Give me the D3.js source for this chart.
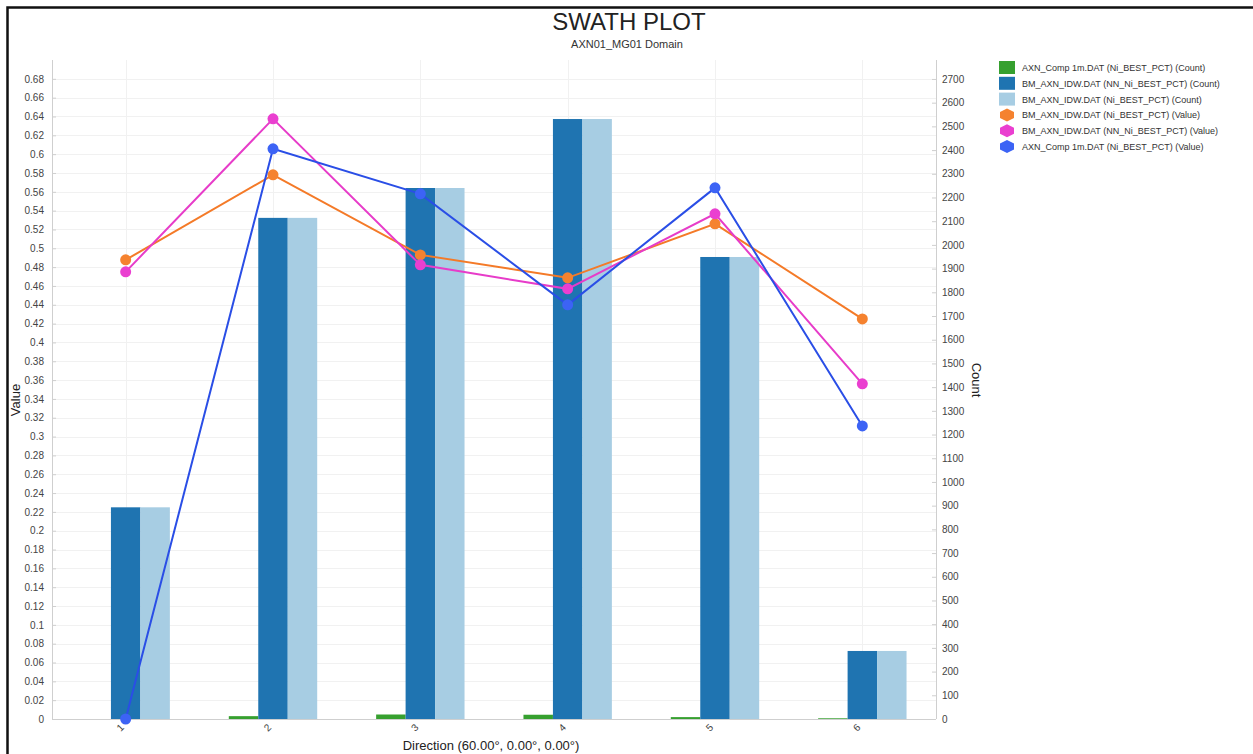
<!DOCTYPE html>
<html>
<head>
<meta charset="utf-8">
<script src="https://cdn.jsdelivr.net/npm/d3@7/dist/d3.min.js"></script>
<style>
  html, body { margin: 0; padding: 0; background: #fff; }
  svg { display: block; font-family: "Liberation Sans", Arial, sans-serif; }
</style>
</head>
<body>
<svg id="chart" width="1253" height="754"></svg>
<script>
// Swath categories along the direction
const categories = ["1", "2", "3", "4", "5", "6"];

// Sample counts per swath (right axis)
const countComp = [0, 12, 19, 18, 8, 3];
const countNN = [893, 2114, 2240, 2531, 1949, 287];
const countIDW = [893, 2114, 2240, 2531, 1949, 287];

// Mean grade per swath (left axis)
const valueIDW = [0.4877, 0.578, 0.493, 0.4686, 0.526, 0.425];
const valueNN = [0.475, 0.6375, 0.4824, 0.4569, 0.5366, 0.356];
const valueComp = [0, 0.6056, 0.5578, 0.4399, 0.5642, 0.3113];

// Axis ticks
const valueTicks = d3.range(0, 35).map(i => +(i * 0.02).toFixed(2));
const countTicks = d3.range(0, 28).map(i => i * 100);

const barSeries = [
  { name: "AXN_Comp 1m.DAT (Ni_BEST_PCT) (Count)", values: countComp, color: "#36a02f" },
  { name: "BM_AXN_IDW.DAT (NN_Ni_BEST_PCT) (Count)", values: countNN, color: "#1f74b1" },
  { name: "BM_AXN_IDW.DAT (Ni_BEST_PCT) (Count)", values: countIDW, color: "#a7cde3" }
];
const lineSeries = [
  { name: "BM_AXN_IDW.DAT (Ni_BEST_PCT) (Value)", values: valueIDW, color: "#f47a28", marker: "#f5822f" },
  { name: "BM_AXN_IDW.DAT (NN_Ni_BEST_PCT) (Value)", values: valueNN, color: "#e73cc9", marker: "#ea3fd0" },
  { name: "AXN_Comp 1m.DAT (Ni_BEST_PCT) (Value)", values: valueComp, color: "#2a4ee6", marker: "#3c63f5" }
];

const svg = d3.select("#chart");
const W = 1253, H = 754;
const plot = { left: 52, right: 936, top: 60, bottom: 719 };

// Frame
svg.append("rect").attr("x", 7.5).attr("y", 7.5).attr("width", W + 10).attr("height", H + 10)
  .attr("fill", "none").attr("stroke", "#111").attr("stroke-width", 2.5);

// Titles
svg.append("text").attr("x", 629).attr("y", 30).attr("text-anchor", "middle")
  .attr("font-size", 24).attr("fill", "#222").text("SWATH PLOT");
svg.append("text").attr("x", 627).attr("y", 48).attr("text-anchor", "middle")
  .attr("font-size", 11).attr("fill", "#333").text("AXN01_MG01 Domain");

// Scales
const x = d3.scaleBand().domain(categories).range([plot.left, plot.right]).paddingInner(0).paddingOuter(0);
const yVal = d3.scaleLinear().domain([0, 0.70]).range([plot.bottom, plot.top]);
const yCnt = d3.scaleLinear().domain([0, 2780]).range([plot.bottom, plot.top]);
const barW = x.bandwidth() * 0.2;
const cx = c => x(c) + x.bandwidth() / 2;

// Gridlines
const grid = svg.append("g");
grid.selectAll("line.h").data(valueTicks).join("line")
  .attr("x1", plot.left).attr("x2", plot.right)
  .attr("y1", d => Math.round(yVal(d)) + 0.5).attr("y2", d => Math.round(yVal(d)) + 0.5)
  .attr("stroke", "#f1f1f1").attr("stroke-width", 1);
grid.selectAll("line.v").data(categories).join("line")
  .attr("x1", d => Math.round(cx(d)) + 0.5).attr("x2", d => Math.round(cx(d)) + 0.5)
  .attr("y1", plot.top).attr("y2", plot.bottom)
  .attr("stroke", "#f1f1f1").attr("stroke-width", 1);

// Bars: three per category, the middle bar centred on the category
barSeries.forEach((s, i) => {
  svg.append("g").selectAll("rect").data(categories).join("rect")
    .attr("x", (c) => cx(c) + (i - 1.5) * barW)
    .attr("width", barW)
    .attr("y", (c, j) => yCnt(s.values[j]))
    .attr("height", (c, j) => plot.bottom - yCnt(s.values[j]))
    .attr("fill", s.color);
});

// Axes
const leftAxis = d3.axisLeft(yVal).tickValues(valueTicks).tickSize(-4).tickPadding(8)
  .tickFormat(d => String(d));
const gL = svg.append("g").attr("transform", `translate(${plot.left},0)`).call(leftAxis);
gL.select(".domain").attr("stroke", "#cfcfcf").attr("d", `M0.5,${plot.top}V${plot.bottom}`);
gL.selectAll(".tick line").attr("stroke", "#cfcfcf");
gL.selectAll(".tick text").attr("font-size", 10).attr("fill", "#444")
  .attr("font-family", "Liberation Sans, Arial, sans-serif");

const rightAxis = d3.axisRight(yCnt).tickValues(countTicks).tickSize(-4).tickPadding(6)
  .tickFormat(d3.format("d"));
const gR = svg.append("g").attr("transform", `translate(${plot.right},0)`).call(rightAxis);
gR.select(".domain").attr("stroke", "#cfcfcf").attr("d", `M0.5,${plot.top}V${plot.bottom}`);
gR.selectAll(".tick line").attr("stroke", "#cfcfcf");
gR.selectAll(".tick text").attr("font-size", 10).attr("fill", "#444")
  .attr("font-family", "Liberation Sans, Arial, sans-serif");

const bottomAxis = d3.axisBottom(x).tickSize(0).tickPadding(0);
const gB = svg.append("g").attr("transform", `translate(0,${plot.bottom})`).call(bottomAxis);
gB.select(".domain").attr("stroke", "#cfcfcf").attr("d", `M${plot.left},0.5H${plot.right}`);
gB.selectAll(".tick text").attr("font-size", 10).attr("fill", "#444")
  .attr("font-family", "Liberation Sans, Arial, sans-serif")
  .attr("text-anchor", "middle").attr("dy", 0)
  .attr("transform", "translate(-3,11) rotate(-45)");

// Axis titles
svg.append("text").attr("transform", "translate(20,400) rotate(-90)").attr("text-anchor", "middle")
  .attr("font-size", 13).attr("fill", "#222").text("Value");
svg.append("text").attr("transform", "translate(972,380) rotate(90)").attr("text-anchor", "middle")
  .attr("font-size", 13).attr("fill", "#222").text("Count");
svg.append("text").attr("x", (plot.left + plot.right) / 2 - 3).attr("y", 750).attr("text-anchor", "middle")
  .attr("font-size", 13).attr("fill", "#222").text("Direction (60.00°, 0.00°, 0.00°)");

// Value lines with markers
const line = d3.line().x(d => cx(d.c)).y(d => yVal(d.v));
lineSeries.forEach(s => {
  const pts = categories.map((c, j) => ({ c, v: s.values[j] }));
  svg.append("path").datum(pts).attr("d", line)
    .attr("fill", "none").attr("stroke", s.color).attr("stroke-width", 2);
  svg.append("g").selectAll("circle").data(pts).join("circle")
    .attr("cx", d => cx(d.c)).attr("cy", d => yVal(d.v)).attr("r", 5.5)
    .attr("fill", s.marker);
});

// Legend
const legend = svg.append("g").attr("transform", "translate(999,61)");
const legendItems = barSeries.map(s => ({ name: s.name, color: s.color, kind: "bar" }))
  .concat(lineSeries.map(s => ({ name: s.name, color: s.marker, kind: "marker" })));
const rowH = 15.8;
const item = legend.selectAll("g").data(legendItems).join("g")
  .attr("transform", (d, i) => `translate(0,${i * rowH})`);
item.filter(d => d.kind === "bar").append("rect")
  .attr("x", 0).attr("y", 0).attr("width", 16).attr("height", 13).attr("fill", d => d.color);
item.filter(d => d.kind === "marker").append("path")
  .attr("d", "M8,0 L15,3.5 L15,9.5 L8,13 L1,9.5 L1,3.5 Z")
  .attr("fill", d => d.color);
item.append("text").attr("x", 23).attr("y", 10).attr("font-size", 9).attr("fill", "#333")
  .text(d => d.name);
</script>
</body>
</html>
